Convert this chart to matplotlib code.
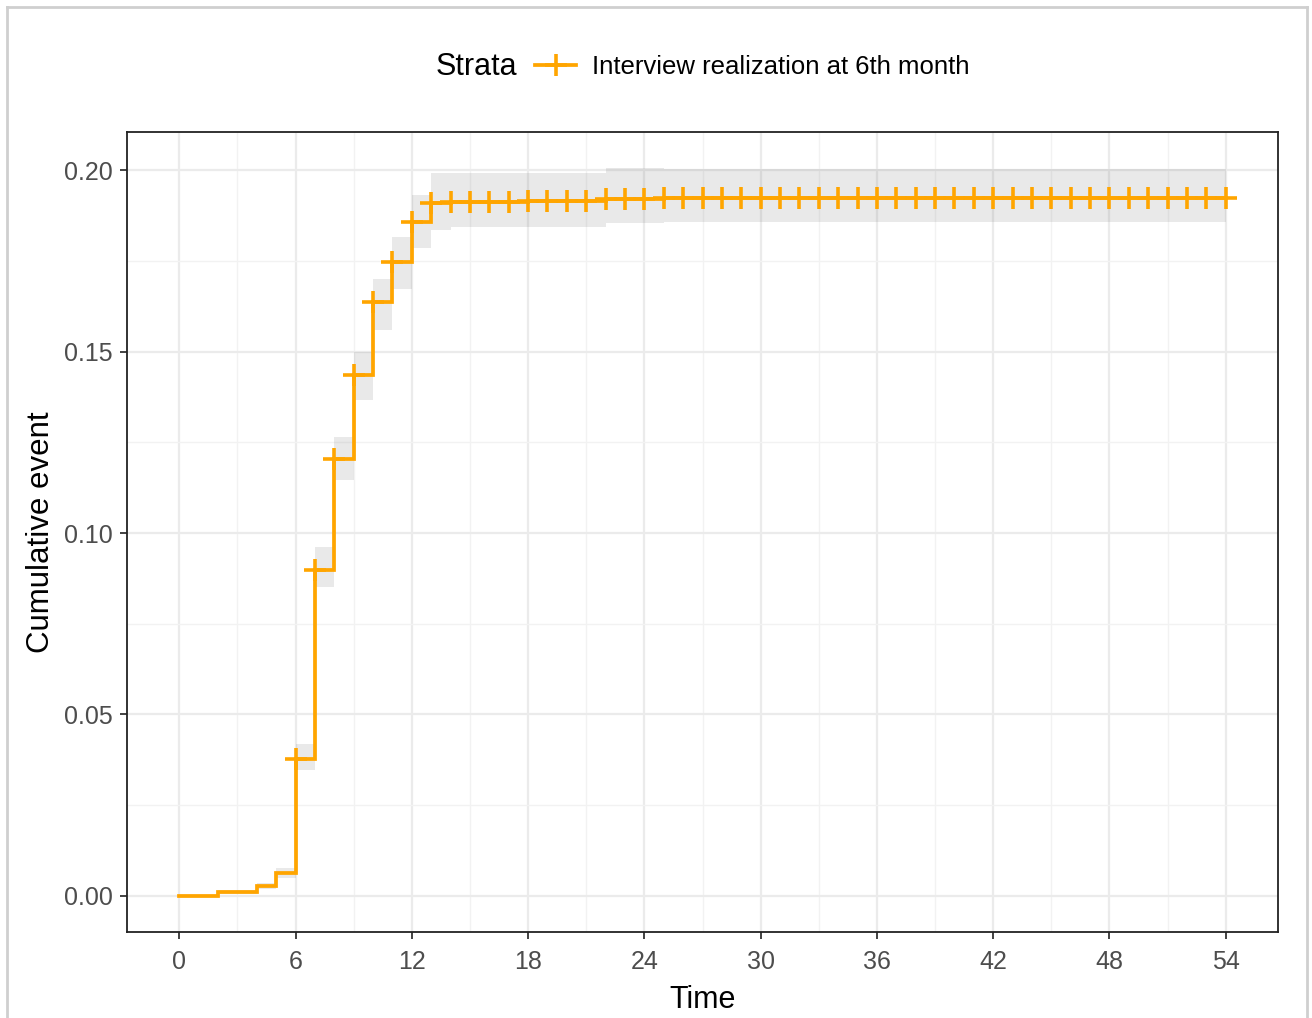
import matplotlib
matplotlib.use("Agg")
import matplotlib.pyplot as plt
from matplotlib.lines import Line2D
import numpy as np

plt.rcParams['font.family'] = ['Liberation Sans', 'DejaVu Sans']

# ---- data ----
step_times = [0, 2, 4, 5, 6, 7, 8, 9, 10, 11, 12, 13, 14, 18, 22, 25, 54]
cum_event = [0.0, 0.0010, 0.0026, 0.0063, 0.0378, 0.0897, 0.1204, 0.1435,
             0.1638, 0.1748, 0.1858, 0.1909, 0.1913, 0.1917, 0.1921, 0.1923, 0.1923]
ci_lower = [0.0, 0.0005, 0.0018, 0.0050, 0.0346, 0.0852, 0.1146, 0.1366,
            0.1560, 0.1674, 0.1785, 0.1835, 0.1845, 0.1845, 0.1855, 0.1858, 0.1858]
ci_upper = [0.0, 0.0015, 0.0034, 0.0076, 0.0419, 0.0962, 0.1265, 0.1500,
            0.1700, 0.1817, 0.1932, 0.1993, 0.1993, 0.1993, 0.2006, 0.2004, 0.2004]
censor_times = list(range(6, 55))
x_ticks = [0, 6, 12, 18, 24, 30, 36, 42, 48, 54]
y_ticks = [0.00, 0.05, 0.10, 0.15, 0.20]
y_tick_labels = ["0.00", "0.05", "0.10", "0.15", "0.20"]
legend_title = "Strata"
series_label = "Interview realization at 6th month"

ORANGE = "#FFA500"
LW = 2.7
MS = 16
MEW = 2.6
W, H = 1312, 1018
fig = plt.figure(figsize=(W / 100, H / 100), dpi=100)
ax = fig.add_axes([127 / W, 1 - 932 / H, (1278 - 127) / W, (932 - 132) / H])

# confidence band
ax.fill_between(step_times, ci_lower, ci_upper, step='post',
                color='#7F7F7F', alpha=0.17, linewidth=0, zorder=2)
# step curve
ax.step(step_times, cum_event, where='post', color=ORANGE, lw=LW, zorder=3,
        solid_joinstyle='miter')
# censor marks at post-jump level
st = np.array(step_times)
ce = np.array(cum_event)
idx = np.searchsorted(st, censor_times, side='right') - 1
ax.plot(censor_times, ce[idx], linestyle='none', marker='+', ms=MS, mew=MEW,
        color=ORANGE, zorder=4)

ax.set_xlim(-2.7, 56.7)
ax.set_ylim(-0.0100, 0.2106)
ax.set_xticks(x_ticks)
ax.set_xticklabels([str(t) for t in x_ticks])
ax.set_yticks(y_ticks)
ax.set_yticklabels(y_tick_labels)
ax.set_xticks(np.arange(3, 55, 6), minor=True)
ax.set_yticks([0.025, 0.075, 0.125, 0.175], minor=True)
ax.grid(which='major', color='#EBEBEB', lw=1.6, zorder=0)
ax.grid(which='minor', color='#F2F2F2', lw=1.0, zorder=0)
ax.set_axisbelow(True)
ax.tick_params(which='major', direction='out', length=5, width=1.3,
               color='#333333', labelsize=18, labelcolor='#4D4D4D', pad=5)
ax.tick_params(axis='x', which='major', pad=8)
ax.tick_params(which='minor', length=0)
for s in ax.spines.values():
    s.set_color('#222222')
    s.set_linewidth(1.3)

ax.set_xlabel("Time", fontsize=22, color='black', labelpad=8)
ax.set_ylabel("Cumulative event", fontsize=22.5, color='black', labelpad=6)

# legend at top
fig.text(476 / W, 1 - 67 / H, legend_title, fontsize=22, ha='center', va='center')
handle = Line2D([], [], color=ORANGE, lw=LW, marker='+', ms=MS, mew=MEW)
fig.legend(handles=[handle], labels=[series_label], loc='center left',
           bbox_to_anchor=(535 / W, 1 - 67 / H), frameon=False, fontsize=18.5,
           handlelength=1.6, handletextpad=0.6, borderpad=0, borderaxespad=0)

# outer light border
bc = '#CFCFCF'
fig.add_artist(Line2D([7 / W, 7 / W], [0, 1 - 7 / H], color=bc, lw=2, transform=fig.transFigure))
fig.add_artist(Line2D([7 / W, 1307 / W], [1 - 7 / H, 1 - 7 / H], color=bc, lw=2, transform=fig.transFigure))
fig.add_artist(Line2D([1307 / W, 1307 / W], [0, 1 - 7 / H], color=bc, lw=2, transform=fig.transFigure))

fig.savefig("out.png", dpi=100)
